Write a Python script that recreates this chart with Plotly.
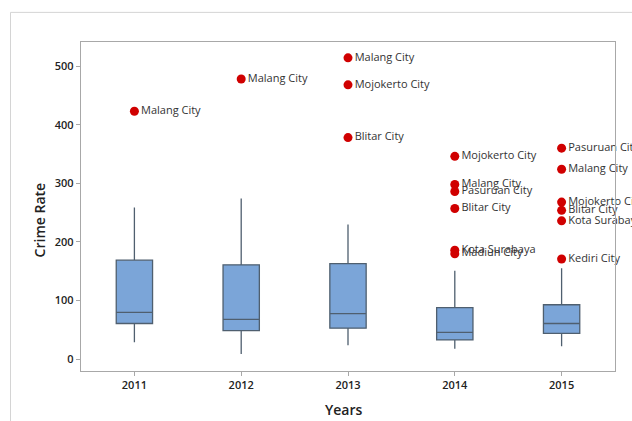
import plotly.graph_objects as go

# Five-number summaries of crime rate per year
years = ["2011", "2012", "2013", "2014", "2015"]
lower_whisker = [29, 9, 24, 18, 22]
q1 = [61, 49, 53, 33, 44]
median = [80, 68, 78, 46, 61]
q3 = [169, 161, 163, 88, 93]
upper_whisker = [259, 274, 230, 151, 155]

# Outlying cities
outlier_years = ["2011", "2012", "2013", "2013", "2013",
                 "2014", "2014", "2014", "2014", "2014", "2014",
                 "2015", "2015", "2015", "2015", "2015", "2015"]
outlier_values = [423, 478, 514, 468, 378,
                  346, 298, 286, 257, 186, 180,
                  360, 324, 268, 254, 236, 171]
outlier_cities = ["Malang City", "Malang City", "Malang City", "Mojokerto City", "Blitar City",
                  "Mojokerto City", "Malang City", "Pasuruan City", "Blitar City", "Kota Surabaya", "Madiun City",
                  "Pasuruan City", "Malang City", "Mojokerto City", "Blitar City", "Kota Surabaya", "Kediri City"]

font_family = "Open Sans, Noto Sans, sans-serif"

fig = go.Figure()
fig.add_trace(go.Box(
    x=years, q1=q1, median=median, q3=q3,
    lowerfence=lower_whisker, upperfence=upper_whisker,
    boxpoints=False, width=0.34,
    fillcolor="#7BA5D8", line=dict(color="#4F5F6F", width=1.3),
    whiskerwidth=0, showlegend=False, hoverinfo="skip",
))
fig.add_trace(go.Scatter(
    x=outlier_years, y=outlier_values, text=outlier_cities,
    mode="markers+text", textposition="middle right",
    marker=dict(color="#D00000", size=9),
    textfont=dict(family=font_family, size=11, color="#333333"),
    cliponaxis=False, showlegend=False,
))

fig.add_shape(type="rect", xref="paper", yref="paper",
              x0=-0.132, x1=1.2, y0=-0.3, y1=1.09,
              line=dict(color="#D4D4D4", width=1), layer="below")

# Axis titles placed as annotations
fig.add_annotation(text="Years", xref="paper", yref="paper", x=0.492, y=-0.117,
                   yanchor="middle", showarrow=False,
                   font=dict(family=font_family, size=14, weight=600, color="#222222"))
fig.add_annotation(text="Crime Rate", xref="paper", yref="paper", x=-0.076, y=0.459,
                   xanchor="center", yanchor="middle", textangle=-90, showarrow=False,
                   font=dict(family=font_family, size=14, weight=600, color="#222222"))

fig.update_layout(
    width=632, height=421,
    margin=dict(l=81, r=17, t=42, b=50),
    paper_bgcolor="white", plot_bgcolor="white",
    font=dict(family=font_family, color="#222222"),
    xaxis=dict(
        type="category", range=[-0.5, 4.5], automargin=False,
        showline=True, mirror=True, linecolor="#A8A8A8", linewidth=1.3,
        ticks="outside", ticklen=4, tickcolor="#A8A8A8",
        tickfont=dict(size=11, weight=600), showgrid=False,
    ),
    yaxis=dict(
        range=[-20, 541], tickvals=[0, 100, 200, 300, 400, 500], automargin=False,
        showline=True, mirror=True, linecolor="#A8A8A8", linewidth=1.3,
        ticks="outside", ticklen=4, tickcolor="#A8A8A8",
        tickfont=dict(size=11, weight=600), showgrid=False, zeroline=False,
    ),
)

fig.write_html("out.html")
